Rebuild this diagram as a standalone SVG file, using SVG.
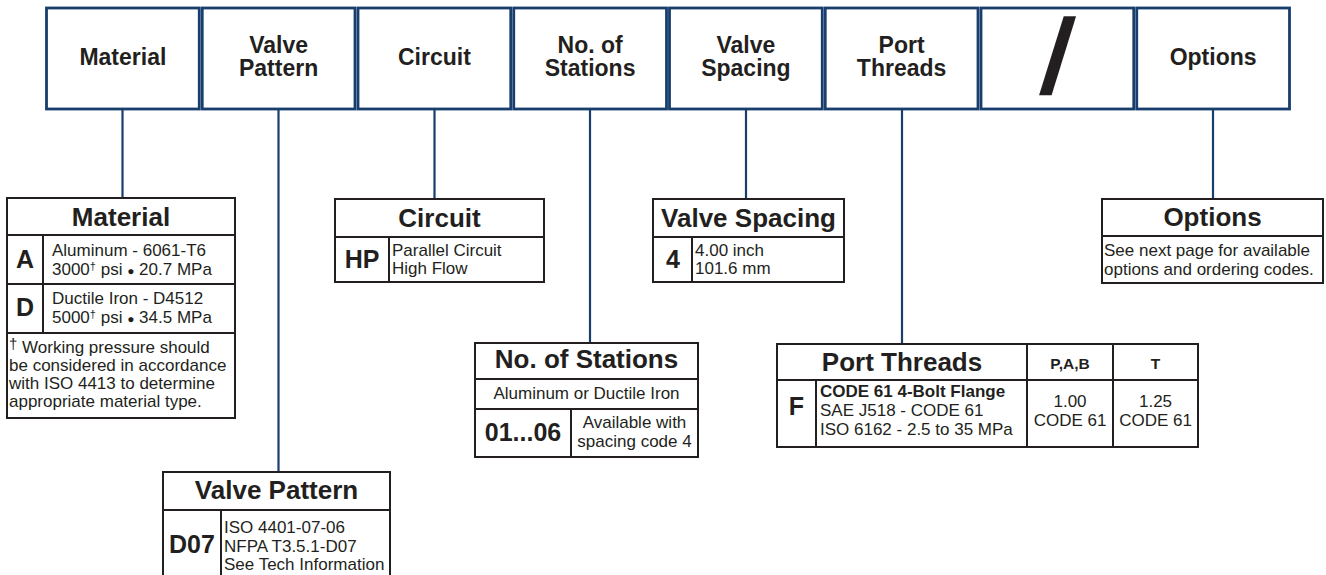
<svg xmlns="http://www.w3.org/2000/svg" width="1326" height="575" viewBox="0 0 1326 575">
<style>
text{font-family:"Liberation Sans",Arial,sans-serif;fill:#231f20}
.hdr{fill:#fff;stroke:#173e6d;stroke-width:2.8}
.ht{font-size:23px;font-weight:bold;text-anchor:middle}
.conn{stroke:#173e6d;stroke-width:2.2;fill:none}
.tb{fill:#fff;stroke:#231f20;stroke-width:2}
.tl{stroke:#231f20;stroke-width:2;fill:none}
.tt{font-size:26px;font-weight:bold;text-anchor:middle}
.code{font-size:25px;font-weight:bold;text-anchor:middle}
.b{font-size:17px}
.c{font-size:17px;text-anchor:middle}
.sup{font-size:11px}
.dot{font-size:12px}
</style>
<rect width="1326" height="575" fill="#fff"/>
<g id="connectors">
<path class="conn" d="M122.5 110V198"/>
<path class="conn" d="M278.5 110V472"/>
<path class="conn" d="M434.5 110V199"/>
<path class="conn" d="M590 110V343"/>
<path class="conn" d="M746 110V199"/>
<path class="conn" d="M902 110V344"/>
<path class="conn" d="M1213 110V199"/>
</g>
<g id="header-material"><rect class="hdr" x="46.5" y="8" width="152.75" height="101"/><text class="ht" x="122.9" y="65">Material</text></g>
<g id="header-valve-pattern"><rect class="hdr" x="202.25" y="8" width="152.75" height="101"/><text class="ht" x="278.6" y="53">Valve</text><text class="ht" x="278.6" y="76">Pattern</text></g>
<g id="header-circuit"><rect class="hdr" x="358" y="8" width="152.75" height="101"/><text class="ht" x="434.4" y="65">Circuit</text></g>
<g id="header-stations"><rect class="hdr" x="513.75" y="8" width="152.75" height="101"/><text class="ht" x="590.1" y="53">No. of</text><text class="ht" x="590.1" y="76">Stations</text></g>
<g id="header-spacing"><rect class="hdr" x="669.5" y="8" width="152.75" height="101"/><text class="ht" x="745.9" y="53">Valve</text><text class="ht" x="745.9" y="76">Spacing</text></g>
<g id="header-ports"><rect class="hdr" x="825.25" y="8" width="152.75" height="101"/><text class="ht" x="901.6" y="53">Port</text><text class="ht" x="901.6" y="76">Threads</text></g>
<g id="header-slash"><rect class="hdr" x="981" y="8" width="152.75" height="101"/><text transform="translate(1058,53) skewX(-7)" x="0" y="40" style="font-size:106px;font-weight:bold;text-anchor:middle">/</text></g>
<g id="header-options"><rect class="hdr" x="1136.75" y="8" width="152.75" height="101"/><text class="ht" x="1213.1" y="65">Options</text></g>

<g id="table-material">
<rect class="tb" x="7" y="198" width="228" height="220"/>
<path class="tl" d="M7 235H235M7 284H235M7 333H235M43 235V333"/>
<text class="tt" x="121" y="226">Material</text>
<text class="code" x="25" y="268">A</text>
<text class="code" x="25" y="316">D</text>
<text class="b" x="52" y="256">Aluminum - 6061-T6</text>
<text class="b" x="52" y="275">3000<tspan class="sup" dy="-5">†</tspan><tspan dy="5"> psi </tspan><tspan class="dot">●</tspan> 20.7 MPa</text>
<text class="b" x="52" y="304">Ductile Iron - D4512</text>
<text class="b" x="52" y="323">5000<tspan class="sup" dy="-5">†</tspan><tspan dy="5"> psi </tspan><tspan class="dot">●</tspan> 34.5 MPa</text>
<text class="b" x="9" y="353"><tspan font-size="15px" dy="-4">†</tspan><tspan dy="4"> Working pressure should</tspan></text>
<text class="b" x="9" y="371">be considered in accordance</text>
<text class="b" x="9" y="389">with ISO 4413 to determine</text>
<text class="b" x="9" y="407">appropriate material type.</text>
</g>

<g id="table-circuit">
<rect class="tb" x="335" y="199" width="209" height="83"/>
<path class="tl" d="M335 237H544M389 237V282"/>
<text class="tt" x="439.5" y="227">Circuit</text>
<text class="code" x="362" y="268">HP</text>
<text class="b" x="392" y="256">Parallel Circuit</text>
<text class="b" x="392" y="274">High Flow</text>
</g>

<g id="table-spacing">
<rect class="tb" x="653" y="199" width="191" height="83"/>
<path class="tl" d="M653 237H844M692 237V282"/>
<text class="tt" x="748.5" y="227">Valve Spacing</text>
<text class="code" x="673" y="268">4</text>
<text class="b" x="695" y="256">4.00 inch</text>
<text class="b" x="695" y="274">101.6 mm</text>
</g>

<g id="table-options">
<rect class="tb" x="1102" y="199" width="221" height="84"/>
<path class="tl" d="M1102 236H1323"/>
<text class="tt" x="1212.5" y="226">Options</text>
<text class="b" x="1104" y="256">See next page for available</text>
<text class="b" x="1104" y="275">options and ordering codes.</text>
</g>

<g id="table-stations">
<rect class="tb" x="475" y="343" width="223" height="114"/>
<path class="tl" d="M475 379H698M475 409H698M571 409V457"/>
<text class="tt" x="586.5" y="368">No. of Stations</text>
<text class="c" x="586.5" y="399">Aluminum or Ductile Iron</text>
<text class="code" x="523" y="441">01...06</text>
<text class="c" x="634.5" y="428">Available with</text>
<text class="c" x="634.5" y="447">spacing code 4</text>
</g>

<g id="table-ports">
<rect class="tb" x="777" y="344" width="421" height="103"/>
<path class="tl" d="M777 380H1198M1027 344V447M1113 344V447M816 380V447"/>
<text class="tt" x="902" y="371">Port Threads</text>
<text x="1070" y="369" style="font-size:15.5px;font-weight:bold;text-anchor:middle">P,A,B</text>
<text x="1155.5" y="369" style="font-size:15.5px;font-weight:bold;text-anchor:middle">T</text>
<text class="code" x="796.5" y="415">F</text>
<text class="b" x="820" y="397" font-weight="bold">CODE 61 4-Bolt Flange</text>
<text class="b" x="820" y="416">SAE J518 - CODE 61</text>
<text class="b" x="820" y="435">ISO 6162 - 2.5 to 35 MPa</text>
<text class="c" x="1070" y="407">1.00</text>
<text class="c" x="1070" y="426">CODE 61</text>
<text class="c" x="1155.5" y="407">1.25</text>
<text class="c" x="1155.5" y="426">CODE 61</text>
</g>

<g id="table-valve-pattern">
<rect class="tb" x="163" y="472" width="227" height="130"/>
<path class="tl" d="M163 510H390M221 510V575"/>
<text class="tt" x="276.5" y="499">Valve Pattern</text>
<text class="code" x="192" y="553">D07</text>
<text class="b" x="224" y="533">ISO 4401-07-06</text>
<text class="b" x="224" y="552">NFPA T3.5.1-D07</text>
<text class="b" x="224" y="570">See Tech Information</text>
</g>
</svg>
